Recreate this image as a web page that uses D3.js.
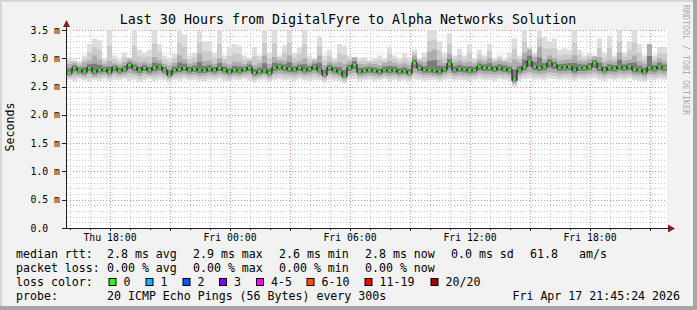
<!DOCTYPE html>
<html><head><meta charset="utf-8">
<script src="https://cdn.jsdelivr.net/npm/d3@7"></script>
<style>
body{margin:0;background:#fff}
svg{display:block}
text{font-family:"DejaVu Sans Mono",monospace;fill:#000}
</style></head><body>
<div id="chart"></div>
<script>
const W = 697, H = 310;

// time window of the graph (15 min per sample)
const startTime = new Date(2026, 3, 16, 15, 51);
const endTime = new Date(2026, 3, 17, 21, 51);
const stepMin = 15;

// ping rtt quantiles per sample, in ms
const med = [2.74,2.83,2.79,2.76,2.83,2.76,2.79,2.80,2.76,2.83,
  2.78,2.80,2.88,2.83,2.79,2.83,2.79,2.83,2.85,2.79,
  2.71,2.79,2.80,2.83,2.79,2.81,2.79,2.78,2.81,2.79,
  2.83,2.79,2.76,2.79,2.78,2.80,2.83,2.74,2.76,2.78,
  2.74,2.83,2.85,2.83,2.81,2.80,2.83,2.79,2.81,2.85,
  2.79,2.71,2.83,2.79,2.76,2.69,2.83,2.88,2.76,2.78,
  2.79,2.78,2.76,2.79,2.78,2.79,2.76,2.77,2.74,2.91,
  2.83,2.79,2.79,2.78,2.76,2.80,2.90,2.79,2.81,2.80,
  2.78,2.79,2.85,2.83,2.83,2.81,2.83,2.81,2.79,2.62,
  2.79,2.85,2.94,2.85,2.83,2.85,2.91,2.88,2.83,2.84,
  2.85,2.79,2.83,2.83,2.85,2.91,2.83,2.79,2.83,2.82,
  2.85,2.83,2.85,2.80,2.79,2.76,2.83,2.82,2.85,2.83];
const lo = [2.62,2.60,2.63,2.61,2.58,2.62,2.60,2.63,2.59,2.62,
  2.61,2.63,2.60,2.62,2.58,2.61,2.63,2.60,2.62,2.61,
  2.57,2.62,2.60,2.63,2.61,2.62,2.60,2.59,2.62,2.61,
  2.63,2.60,2.58,2.62,2.61,2.63,2.60,2.57,2.61,2.62,
  2.58,2.62,2.63,2.61,2.62,2.60,2.63,2.61,2.60,2.62,
  2.61,2.57,2.62,2.60,2.59,2.56,2.62,2.63,2.60,2.61,
  2.62,2.60,2.61,2.63,2.60,2.62,2.59,2.61,2.58,2.63,
  2.62,2.60,2.61,2.62,2.59,2.61,2.63,2.60,2.62,2.61,
  2.60,2.62,2.63,2.61,2.62,2.60,2.63,2.62,2.60,2.50,
  2.60,2.63,2.64,2.62,2.63,2.61,2.64,2.63,2.62,2.63,
  2.62,2.60,2.63,2.62,2.63,2.64,2.62,2.60,2.63,2.61,
  2.63,2.62,2.64,2.61,2.60,2.58,2.62,2.61,2.63,2.62];
const q1 = [2.68,2.71,2.70,2.68,2.72,2.67,2.70,2.71,2.68,2.72,
  2.70,2.71,2.74,2.72,2.69,2.72,2.70,2.71,2.73,2.70,
  2.65,2.70,2.71,2.72,2.70,2.71,2.69,2.70,2.71,2.70,
  2.72,2.70,2.68,2.70,2.69,2.71,2.72,2.66,2.68,2.70,
  2.66,2.72,2.73,2.72,2.71,2.70,2.72,2.70,2.71,2.73,
  2.70,2.65,2.72,2.70,2.68,2.63,2.72,2.74,2.68,2.69,
  2.70,2.69,2.68,2.70,2.69,2.70,2.68,2.69,2.67,2.74,
  2.72,2.70,2.70,2.69,2.68,2.71,2.74,2.70,2.71,2.70,
  2.69,2.70,2.73,2.72,2.72,2.71,2.72,2.71,2.70,2.56,
  2.70,2.73,2.76,2.73,2.72,2.73,2.75,2.74,2.72,2.73,
  2.73,2.70,2.72,2.72,2.73,2.75,2.72,2.70,2.72,2.71,
  2.73,2.72,2.73,2.70,2.70,2.68,2.72,2.71,2.73,2.72];
const q3 = [2.90,2.92,2.88,2.93,2.96,3.05,2.98,2.90,2.95,2.91,
  2.89,2.93,2.98,2.95,2.92,2.94,2.91,3.02,2.97,2.90,
  2.87,2.92,3.05,2.98,2.91,2.93,3.08,2.95,2.96,2.90,
  3.00,2.92,2.89,2.94,2.93,2.90,2.95,2.88,2.91,3.05,
  2.90,3.02,2.97,2.96,3.05,2.92,2.95,3.00,2.91,2.96,
  3.05,2.88,2.94,2.91,2.93,2.90,2.94,3.02,2.90,2.89,
  2.91,2.90,2.88,2.92,2.95,2.92,2.89,2.91,2.88,3.05,
  2.95,2.93,3.12,3.15,2.98,2.92,3.08,2.93,2.96,2.92,
  2.94,2.91,2.97,2.95,3.00,2.93,2.96,2.94,2.92,2.98,
  2.93,3.10,3.15,3.02,3.20,2.98,3.05,3.00,2.96,2.97,
  2.98,3.05,2.96,2.95,2.98,3.03,3.02,2.93,2.96,2.94,
  3.10,2.96,2.98,3.05,2.95,2.91,3.25,2.94,3.00,2.95];
const hi = [3.00,2.97,2.95,3.05,3.25,3.35,3.32,3.00,3.50,3.05,
  2.98,3.10,3.02,3.50,3.15,3.10,3.15,3.50,3.25,3.05,
  3.00,3.08,3.50,3.42,3.05,3.10,3.48,3.30,3.30,3.10,
  3.50,3.05,3.20,3.25,3.22,3.05,3.00,3.20,3.05,3.50,
  3.10,3.50,3.05,3.23,3.50,3.10,3.20,3.50,3.05,3.00,
  3.38,3.05,3.15,3.00,3.25,3.22,3.05,2.98,3.00,3.02,
  2.97,3.00,3.05,3.00,3.20,3.05,3.00,3.08,3.02,3.15,
  3.00,3.10,3.50,3.50,3.30,3.10,3.44,3.05,3.17,3.05,
  3.25,3.00,3.15,3.05,3.25,3.00,3.05,2.98,3.10,3.35,
  3.05,3.50,3.20,3.10,3.50,3.38,3.30,3.35,3.15,3.18,
  3.15,3.50,3.15,3.05,3.10,3.05,3.35,3.10,3.40,3.05,
  3.50,3.10,3.30,3.50,3.25,3.05,3.25,3.05,3.20,3.20];

// legend content
const rttStats = ["2.8 ms avg", "2.9 ms max", "2.6 ms min", "2.8 ms now", "0.0 ms sd", "61.8", "am/s"];
const rttX = [107, 193, 279, 365, 451, 530, 579];
const lossStats = ["0.00 % avg", "0.00 % max", "0.00 % min", "0.00 % now"];
const lossLabels = ["0", "1", "2", "3", "4-5", "6-10", "11-19", "20/20"];
const lossColors = ["#26ff00", "#00b8ff", "#0059ff", "#7e00ff", "#ff00ff", "#ff5500", "#ff0000", "#a00000"];
const lossBoxX = [109, 146, 183, 219.5, 256.5, 307, 365, 431];

const yTicks = [0, 0.5, 1.0, 1.5, 2.0, 2.5, 3.0, 3.5];

const svg = d3.select("#chart").append("svg").attr("width", W).attr("height", H);

// background + 3d border
svg.append("rect").attr("width", W).attr("height", H).attr("fill", "#f2f2f2");
svg.append("path").attr("d", `M0,0H${W}V2H2V${H}H0Z`).attr("fill", "#d6d6d6");
svg.append("path").attr("d", `M${W},${H}H0V${H-4}H${W-4}V0H${W}Z`).attr("fill", "#a6a6a6");

const x = d3.scaleTime().domain([startTime, endTime]).range([67, 667]);
const y = d3.scaleLinear().domain([0, 3.5]).range([228, 30]);
const px = v => Math.round(v) + 0.5;

svg.append("rect").attr("x", 67).attr("y", 30).attr("width", 600).attr("height", 198).attr("fill", "#fff");

const grid = svg.append("g");
// horizontal grid
d3.range(1, 36).forEach(i => {
  const major = i % 5 === 0;
  grid.append("line")
    .attr("x1", 67).attr("x2", 667)
    .attr("y1", px(y(i / 10))).attr("y2", px(y(i / 10)))
    .attr("stroke", major ? "#ec8c8c" : "#c8c8c8")
    .attr("stroke-dasharray", "1,2");
});
// vertical grid
const hours = x.ticks(d3.timeHour.every(1));
hours.forEach(h => {
  const major = h.getHours() % 3 === 0;
  grid.append("line")
    .attr("x1", px(x(h))).attr("x2", px(x(h)))
    .attr("y1", 30).attr("y2", 228)
    .attr("stroke", major ? "#ec8c8c" : "#c8c8c8")
    .attr("stroke-dasharray", "1,2");
});

// smoke
const samples = med.map((m, i) => ({
  t0: d3.timeMinute.offset(startTime, i * stepMin),
  t1: d3.timeMinute.offset(startTime, (i + 1) * stepMin),
  med: m, lo: lo[i], q1: q1[i], q3: q3[i], hi: hi[i]
}));

const bands = [
  {c: "#dddddd", a: d => d.lo, b: d => d.hi},
  {c: "#cbcbcb", a: d => (d.lo + d.q1) / 2, b: d => (d.q3 + d.hi) / 2},
  {c: "#adadad", a: d => d.q1, b: d => d.q3},
  {c: "#7c7c7c", a: d => (d.q1 + d.med) / 2, b: d => (d.med + d.q3) / 2}
];
bands.forEach(bd => {
  svg.append("g").selectAll("rect").data(samples).enter().append("rect")
    .attr("x", d => x(d.t0))
    .attr("width", d => x(d.t1) - x(d.t0))
    .attr("y", d => y(bd.b(d)))
    .attr("height", d => y(bd.a(d)) - y(bd.b(d)))
    .attr("fill", bd.c);
});

// median trace
const medLine = d3.line()
  .x(d => (x(d.t0) + x(d.t1)) / 2)
  .y(d => y(d.med))
  .curve(d3.curveStep);
svg.append("path").datum(samples).attr("d", medLine)
  .attr("fill", "none").attr("stroke", "#262626").attr("stroke-width", 1.2);

svg.append("g").selectAll("rect").data(samples).enter().append("rect")
  .attr("x", d => (x(d.t0) + x(d.t1)) / 2 - 1.5)
  .attr("width", 3)
  .attr("y", d => y(d.med) - 1)
  .attr("height", 2)
  .attr("fill", lossColors[0]);

// axes
const axis = svg.append("g").attr("stroke", "#1f1f1f");
axis.append("line").attr("x1", 66.5).attr("x2", 66.5).attr("y1", 228).attr("y2", 26);
axis.append("line").attr("x1", 63).attr("x2", 669).attr("y1", 228.5).attr("y2", 228.5);
yTicks.forEach(v => {
  axis.append("line").attr("x1", 62).attr("x2", 66).attr("y1", px(y(v))).attr("y2", px(y(v)));
});
hours.forEach(h => {
  const major = h.getHours() % 3 === 0;
  axis.append("line").attr("x1", px(x(h))).attr("x2", px(x(h)))
    .attr("y1", 229).attr("y2", major ? 231 : 230);
});
svg.append("path").attr("d", "M63,27L70,27L66.5,20Z").attr("fill", "#801f1f");
svg.append("path").attr("d", "M668,224.5L668,232.5L675,228.5Z").attr("fill", "#801f1f");

// y labels
svg.append("g").selectAll("text").data(yTicks).enter().append("text")
  .attr("x", 30.5).attr("y", d => y(d) + 3.5)
  .style("font-size", "9.8px")
  .text(d => d === 0 ? "0.0" : d3.format(".1f")(d) + " m");

// x labels
const labelTicks = x.ticks(d3.timeHour.every(6));
svg.append("g").selectAll("text").data(labelTicks).enter().append("text")
  .attr("x", d => x(d)).attr("y", 241)
  .attr("text-anchor", "middle")
  .style("font-size", "9.8px")
  .text(d => d3.timeFormat("%a %H:%M")(d));

// title
svg.append("text").attr("x", 348).attr("y", 24).attr("text-anchor", "middle")
  .style("font-size", "13.3px")
  .text("Last 30 Hours from DigitalFyre to Alpha Networks Solution");

// y title
svg.append("text").attr("transform", "translate(14,127) rotate(-90)")
  .attr("text-anchor", "middle").style("font-size", "11.6px").text("Seconds");

// watermark
svg.append("text").attr("transform", "translate(683,5) rotate(90)")
  .style("font-size", "8.3px").style("fill", "#aaaaaa")
  .text("RRDTOOL / TOBI OETIKER");

// legend
const lg = svg.append("g").style("font-size", "11.6px");
const row = [257.5, 271.5, 285.5, 299.5];
lg.append("text").attr("x", 16).attr("y", row[0]).text("median rtt:");
rttStats.forEach((s, i) => lg.append("text").attr("x", rttX[i]).attr("y", row[0]).text(s));
lg.append("text").attr("x", 16).attr("y", row[1]).text("packet loss:");
lossStats.forEach((s, i) => lg.append("text").attr("x", rttX[i]).attr("y", row[1]).text(s));
lg.append("text").attr("x", 16).attr("y", row[2]).text("loss color:");
lossLabels.forEach((s, i) => {
  lg.append("rect").attr("x", lossBoxX[i]).attr("y", 278.5).attr("width", 7).attr("height", 7)
    .attr("fill", lossColors[i]).attr("stroke", "#000");
  lg.append("text").attr("x", lossBoxX[i] + 14.5).attr("y", row[2]).text(s);
});
lg.append("text").attr("x", 16).attr("y", row[3]).text("probe:");
lg.append("text").attr("x", 107).attr("y", row[3]).text("20 ICMP Echo Pings (56 Bytes) every 300s");
lg.append("text").attr("x", 680).attr("y", row[3]).attr("text-anchor", "end").text("Fri Apr 17 21:45:24 2026");
</script>
</body></html>
